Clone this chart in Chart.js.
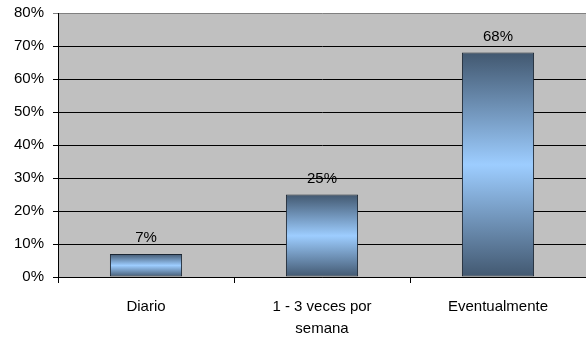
<!DOCTYPE html>
<html>
<head>
<meta charset="utf-8">
<script src="https://cdn.jsdelivr.net/npm/chart.js@4"></script>
<style>
  html, body { margin: 0; padding: 0; background: #fff; }
  #wrap { width: 586px; height: 339px; }
</style>
</head>
<body>
<div id="wrap"><canvas id="freqChart"></canvas></div>
<script>
// datos
const categorias = ['Diario', ['1 - 3 veces por', 'semana'], 'Eventualmente'];
const valores = [7, 25, 68];
const ticksY = [0, 10, 20, 30, 40, 50, 60, 70, 80];

Chart.defaults.font.family = '"Liberation Sans", Arial, sans-serif';
Chart.defaults.font.size = 15;
Chart.defaults.color = '#000';

// fondo gris del area del grafico
const fondoPlugin = {
    id: 'fondo',
    beforeDraw(chart) {
        const a = chart.chartArea, c = chart.ctx;
        c.save();
        c.fillStyle = '#c0c0c0';
        c.fillRect(a.left, a.top, a.right - a.left, a.bottom - a.top);
        c.restore();
    }
};

// etiquetas de valor encima de cada barra
const etiquetasPlugin = {
    id: 'etiquetas',
    afterDatasetsDraw(chart) {
        const c = chart.ctx;
        const meta = chart.getDatasetMeta(0);
        c.save();
        c.font = '15px "Liberation Sans", Arial, sans-serif';
        c.fillStyle = '#000';
        c.textAlign = 'center';
        c.textBaseline = 'alphabetic';
        meta.data.forEach((bar, i) => {
            c.fillText(valores[i] + '%', bar.x, bar.y - 12);
        });
        c.restore();
    }
};

// degradado vertical: oscuro arriba y abajo, claro en el centro
function degradado(context) {
    const chart = context.chart;
    const y = chart.scales.y;
    if (!chart.chartArea || !y || context.raw === undefined) return '#7fa8d0';
    const top = y.getPixelForValue(context.raw);
    const bottom = y.getPixelForValue(0);
    if (!isFinite(top) || !isFinite(bottom) || top === bottom) return '#7fa8d0';
    const g = chart.ctx.createLinearGradient(0, top, 0, bottom);
    g.addColorStop(0, '#425870');
    g.addColorStop(0.5, '#9dcdff');
    g.addColorStop(1, '#425870');
    return g;
}

const ctx = document.getElementById('freqChart').getContext('2d');
new Chart(ctx, {
    type: 'bar',
    data: {
        labels: categorias,
        datasets: [{
            data: valores,
            backgroundColor: degradado,
            borderColor: '#1b2633',
            borderWidth: 1,
            borderSkipped: false,
            categoryPercentage: 1,
            barPercentage: 0.41
        }]
    },
    options: {
        responsive: true,
        maintainAspectRatio: false,
        animation: false,
        layout: { padding: { top: 13, right: 0, left: 0, bottom: 0 } },
        plugins: {
            legend: { display: false },
            tooltip: { enabled: false }
        },
        scales: {
            y: {
                min: 0,
                max: 80,
                afterBuildTicks(scale) {
                    scale.ticks = ticksY.map(v => ({ value: v }));
                },
                afterFit(scale) {
                    scale.width = 58;
                    scale.paddingTop = 0;
                    scale.paddingBottom = 0;
                },
                ticks: {
                    padding: 9,
                    callback: v => v + '%'
                },
                grid: {
                    color: ctx => ctx.tick && ctx.tick.value === 80 ? '#808080' : '#000',
                    tickLength: 5,
                    lineWidth: 1
                },
                border: { color: '#000', width: 1 }
            },
            x: {
                afterFit(scale) { scale.height = 62; },
                ticks: {
                    padding: 13,
                    maxRotation: 0,
                    font: { lineHeight: 1.45 }
                },
                grid: {
                    offset: true,
                    drawOnChartArea: false,
                    tickLength: 6,
                    color: '#000'
                },
                border: { color: '#000', width: 1 }
            }
        }
    },
    plugins: [fondoPlugin, etiquetasPlugin]
});
</script>
</body>
</html>
